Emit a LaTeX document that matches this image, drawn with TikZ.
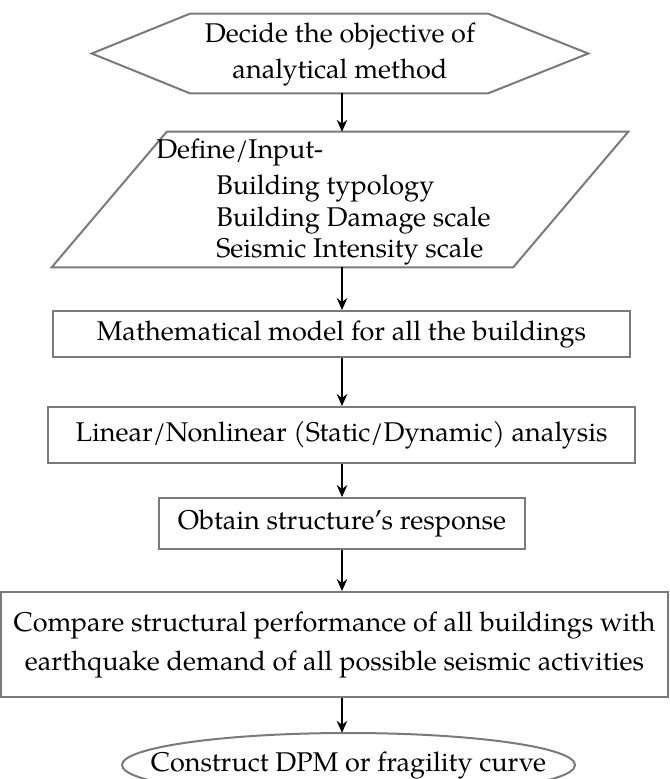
\documentclass[tikz,border=0pt]{standalone}
\usepackage{fontspec}
\setmainfont{texgyrepagella}[Extension=.otf, UprightFont=*-regular, BoldFont=*-bold, ItalicFont=*-italic, BoldItalicFont=*-bolditalic]
\usetikzlibrary{arrows.meta, calc}

\definecolor{linegray}{RGB}{122,122,122}

\begin{document}
\begin{tikzpicture}[x=0.75pt, y=-0.75pt,
  outline/.style={draw=linegray, line width=1.5pt, fill=white},
  txt/.style={font=\fontsize{20.3}{27}\selectfont, text=black, inner sep=0pt},
  boxst/.style={outline, txt, rectangle, align=center},
  ghost/.style={inner sep=0pt, rectangle},
  flow/.style={-{Stealth[length=9pt, width=8pt, inset=3pt]}, line width=0.8pt, black}]
\useasboundingbox (0,0) rectangle (670,779);

\coordinate (axis) at (342,0);

% start: hexagon
\node[ghost, minimum width=372pt, minimum height=59.25pt] (hex) at (340,53.5) {};
\draw[outline] (hex.west) -- ($(hex.north west)+(98,0)$) -- ($(hex.north east)+(-100,0)$)
  -- (hex.east) -- ($(hex.south east)+(-100,0)$) -- ($(hex.south west)+(98,0)$) -- cycle;
\node[txt, align=center] (hextext) at (340,54) {Decide the objective of\\analytical method};

% input: parallelogram
\node[ghost, minimum width=432pt, minimum height=101.25pt] (para) at (340,199.5) {};
\draw[outline] ($(para.north west)+(115,0)$) -- (para.north east) -- ($(para.south east)+(-115,0)$)
  -- (para.south west) -- cycle;
\node[txt, anchor=base west] (in1) at (156,158) {Define/Input-};
\node[txt, anchor=base west] (in2) at (216,194) {Building typology};
\node[txt, anchor=base west] (in3) at (216,226) {Building Damage scale};
\node[txt, anchor=base west] (in4) at (216,257) {Seismic Intensity scale};

% process boxes
\node[boxst, minimum width=432.75pt, minimum height=34.5pt] (model) at (341.5,334)
  {Mathematical model for all the buildings};
\node[boxst, minimum width=440.25pt, minimum height=42pt] (anal) at (341.5,435)
  {Linear/Nonlinear (Static/Dynamic) analysis};
\node[boxst, minimum width=274.5pt, minimum height=38.25pt] (resp) at (342,523.5)
  {Obtain structure’s response};
\node[boxst, minimum width=500.25pt, minimum height=78.75pt, font=\fontsize{20.3}{29.25}\selectfont] (cmp) at (334.5,644.5)
  {Compare structural performance of all buildings with\\earthquake demand of all possible seismic activities};

% end: terminal ellipse around a plain text node
\coordinate (finc) at (348.5,765);
\draw[outline] (finc) ellipse [x radius=226.5, y radius=32];
\node[ghost, txt, minimum width=339.75pt, minimum height=48pt] (fin) at (finc)
  {Construct DPM or fragility curve};

% connectors
\draw[flow] (hex.south -| axis) -- (para.north -| axis);
\draw[flow] (para.south -| axis) -- (model.north -| axis);
\draw[flow] (model.south -| axis) -- (anal.north -| axis);
\draw[flow] (anal.south -| axis) -- (resp.north -| axis);
\draw[flow] (resp.south -| axis) -- (cmp.north -| axis);
\draw[flow] (cmp.south -| axis) -- (fin.north -| axis);
\end{tikzpicture}
\end{document}
